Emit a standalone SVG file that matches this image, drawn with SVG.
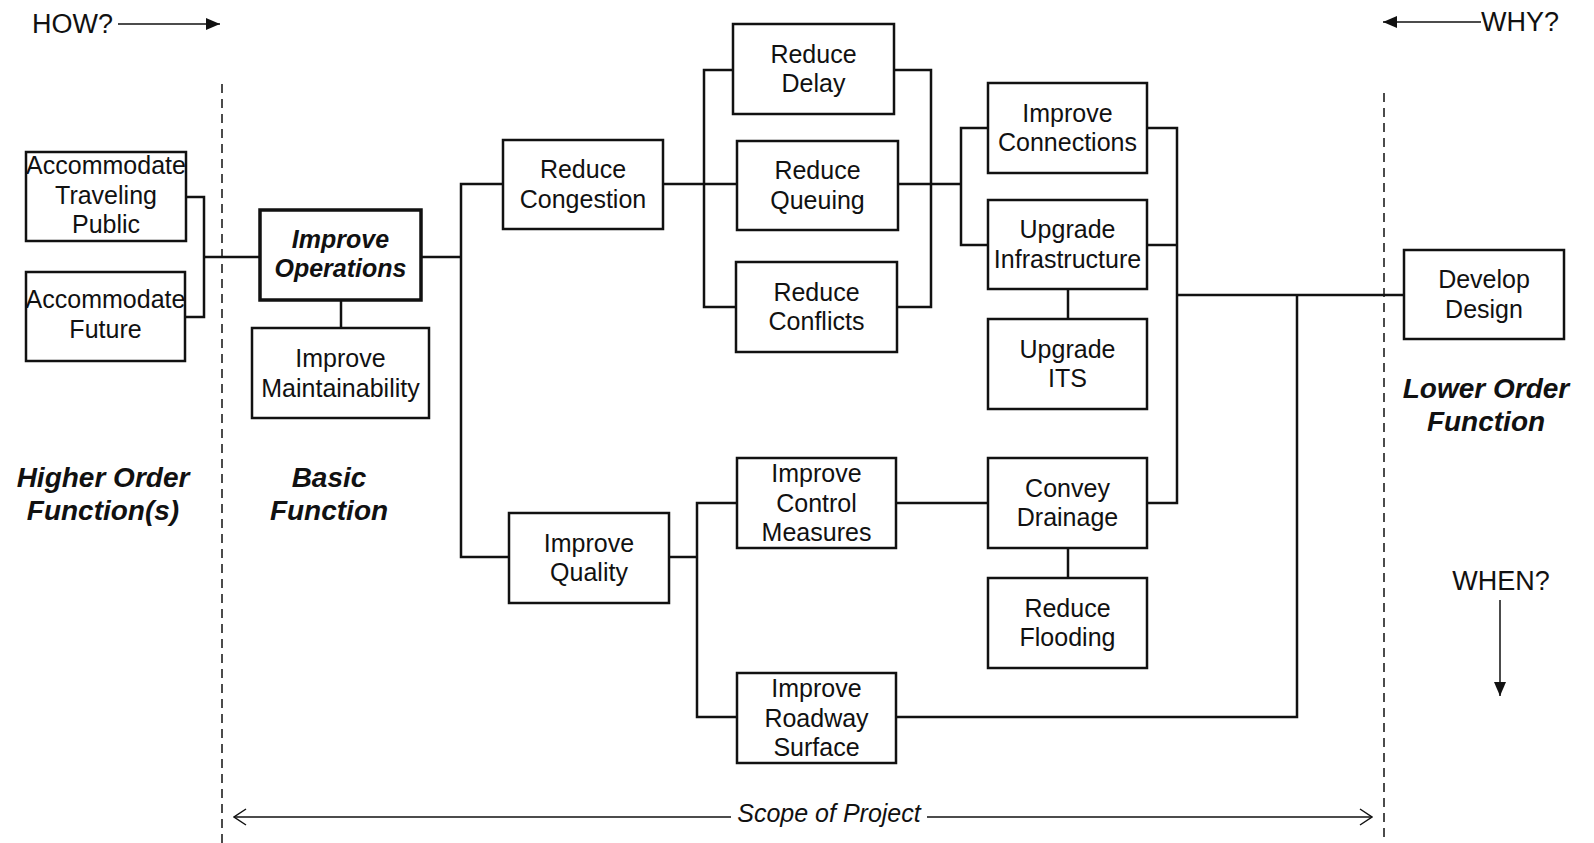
<svg xmlns="http://www.w3.org/2000/svg" width="1594" height="843" viewBox="0 0 1594 843">
<style>
.box{fill:#fff;stroke:#111;stroke-width:2.5}
.bold{stroke-width:3.5}
.t{font-family:"Liberation Sans",Arial,sans-serif;font-size:25px;fill:#111;text-anchor:middle}
.bi{font-weight:bold;font-style:italic}
.lab{font-family:"Liberation Sans",Arial,sans-serif;font-size:28px;font-weight:bold;font-style:italic;fill:#111;text-anchor:middle}
.hw{font-family:"Liberation Sans",Arial,sans-serif;font-size:27px;fill:#111}
.c{fill:none;stroke:#111;stroke-width:2.5}
.dash{fill:none;stroke:#111;stroke-width:1.5;stroke-dasharray:9,6}
.thin{fill:none;stroke:#111;stroke-width:1.5}
</style>
<defs>
<marker id="tri" viewBox="0 0 14 12" refX="14" refY="6" markerWidth="14" markerHeight="12" markerUnits="userSpaceOnUse" orient="auto">
<path d="M0,0 L14,6 L0,12 Z" fill="#111"/>
</marker>
<marker id="open" viewBox="0 0 14 18" refX="13" refY="9" markerWidth="14" markerHeight="18" markerUnits="userSpaceOnUse" orient="auto-start-reverse">
<path d="M1,1 L13,9 L1,17" fill="none" stroke="#111" stroke-width="1.5"/>
</marker>
</defs>
<rect width="1594" height="843" fill="#fff"/>

<g id="guides">
<line class="dash" x1="222" y1="84" x2="222" y2="843"/>
<line class="dash" x1="1384" y1="93" x2="1384" y2="843"/>
<line class="thin" x1="118" y1="24" x2="220" y2="24" marker-end="url(#tri)"/>
<text class="hw" x="32" y="33">HOW?</text>
<line class="thin" x1="1481" y1="22" x2="1383" y2="22" marker-end="url(#tri)"/>
<text class="hw" x="1481" y="31">WHY?</text>
<text class="hw" x="1501" y="590" text-anchor="middle">WHEN?</text>
<line class="thin" x1="1500" y1="600" x2="1500" y2="696" marker-end="url(#tri)"/>
<line class="thin" x1="234" y1="817" x2="731" y2="817" marker-start="url(#open)"/>
<line class="thin" x1="927" y1="817" x2="1372" y2="817" marker-end="url(#open)"/>
<text class="t" x="829" y="822" font-style="italic">Scope of Project</text>
<text class="lab" x="103" y="487">Higher Order</text>
<text class="lab" x="103" y="520">Function(s)</text>
<text class="lab" x="329" y="487">Basic</text>
<text class="lab" x="329" y="520">Function</text>
<text class="lab" x="1486" y="398">Lower Order</text>
<text class="lab" x="1486" y="431">Function</text>
</g>

<g id="connectors">
<polyline class="c" points="186,197 204,197 204,317 185,317"/>
<line class="c" x1="204" y1="257" x2="260" y2="257"/>
<line class="c" x1="341" y1="300" x2="341" y2="328"/>
<line class="c" x1="421" y1="257" x2="461" y2="257"/>
<polyline class="c" points="503,184 461,184 461,557 509,557"/>
<line class="c" x1="663" y1="184" x2="737" y2="184"/>
<polyline class="c" points="733,70 704,70 704,307 736,307"/>
<polyline class="c" points="894,70 931,70 931,307 897,307"/>
<line class="c" x1="898" y1="184" x2="961" y2="184"/>
<polyline class="c" points="988,128 961,128 961,245 988,245"/>
<polyline class="c" points="1147,128 1177,128 1177,503 1147,503"/>
<line class="c" x1="1147" y1="245" x2="1177" y2="245"/>
<line class="c" x1="1177" y1="295" x2="1404" y2="295"/>
<line class="c" x1="1068" y1="289" x2="1068" y2="319"/>
<line class="c" x1="669" y1="557" x2="697" y2="557"/>
<polyline class="c" points="737,503 697,503 697,717 737,717"/>
<line class="c" x1="896" y1="503" x2="988" y2="503"/>
<line class="c" x1="1068" y1="548" x2="1068" y2="578"/>
<polyline class="c" points="896,717 1297,717 1297,295"/>
</g>

<g id="accommodate-traveling-public">
<rect class="box" x="26" y="152" width="160" height="89"/>
<text class="t" x="106" y="174" font-size="23">Accommodate</text>
<text class="t" x="106" y="204" font-size="24">Traveling</text>
<text class="t" x="106" y="233" font-size="24">Public</text>
</g>
<g id="accommodate-future">
<rect class="box" x="26" y="272" width="159" height="89"/>
<text class="t" x="105.5" y="308" font-size="23">Accommodate</text>
<text class="t" x="105.5" y="338" font-size="24">Future</text>
</g>
<g id="improve-operations">
<rect class="box bold" x="260" y="210" width="161" height="90"/>
<text class="t bi" x="340.5" y="248" font-size="24">Improve</text>
<text class="t bi" x="340.5" y="277" font-size="24">Operations</text>
</g>
<g id="improve-maintainability">
<rect class="box" x="252" y="328" width="177" height="90"/>
<text class="t" x="340.5" y="367">Improve</text>
<text class="t" x="340.5" y="397">Maintainability</text>
</g>
<g id="reduce-congestion">
<rect class="box" x="503" y="140" width="160" height="89"/>
<text class="t" x="583" y="178">Reduce</text>
<text class="t" x="583" y="208">Congestion</text>
</g>
<g id="reduce-delay">
<rect class="box" x="733" y="24" width="161" height="90"/>
<text class="t" x="813.5" y="63">Reduce</text>
<text class="t" x="813.5" y="92">Delay</text>
</g>
<g id="reduce-queuing">
<rect class="box" x="737" y="141" width="161" height="89"/>
<text class="t" x="817.5" y="179">Reduce</text>
<text class="t" x="817.5" y="209">Queuing</text>
</g>
<g id="reduce-conflicts">
<rect class="box" x="736" y="262" width="161" height="90"/>
<text class="t" x="816.5" y="301">Reduce</text>
<text class="t" x="816.5" y="330">Conflicts</text>
</g>
<g id="improve-connections">
<rect class="box" x="988" y="83" width="159" height="90"/>
<text class="t" x="1067.5" y="122">Improve</text>
<text class="t" x="1067.5" y="151">Connections</text>
</g>
<g id="upgrade-infrastructure">
<rect class="box" x="988" y="200" width="159" height="89"/>
<text class="t" x="1067.5" y="238">Upgrade</text>
<text class="t" x="1067.5" y="268">Infrastructure</text>
</g>
<g id="upgrade-its">
<rect class="box" x="988" y="319" width="159" height="90"/>
<text class="t" x="1067.5" y="358">Upgrade</text>
<text class="t" x="1067.5" y="387">ITS</text>
</g>
<g id="develop-design">
<rect class="box" x="1404" y="250" width="160" height="89"/>
<text class="t" x="1484" y="288">Develop</text>
<text class="t" x="1484" y="318">Design</text>
</g>
<g id="improve-quality">
<rect class="box" x="509" y="513" width="160" height="90"/>
<text class="t" x="589" y="552">Improve</text>
<text class="t" x="589" y="581">Quality</text>
</g>
<g id="improve-control-measures">
<rect class="box" x="737" y="458" width="159" height="90"/>
<text class="t" x="816.5" y="482">Improve</text>
<text class="t" x="816.5" y="512">Control</text>
<text class="t" x="816.5" y="541">Measures</text>
</g>
<g id="convey-drainage">
<rect class="box" x="988" y="458" width="159" height="90"/>
<text class="t" x="1067.5" y="497">Convey</text>
<text class="t" x="1067.5" y="526">Drainage</text>
</g>
<g id="reduce-flooding">
<rect class="box" x="988" y="578" width="159" height="90"/>
<text class="t" x="1067.5" y="617">Reduce</text>
<text class="t" x="1067.5" y="646">Flooding</text>
</g>
<g id="improve-roadway-surface">
<rect class="box" x="737" y="673" width="159" height="90"/>
<text class="t" x="816.5" y="697">Improve</text>
<text class="t" x="816.5" y="727">Roadway</text>
<text class="t" x="816.5" y="756">Surface</text>
</g>
</svg>
